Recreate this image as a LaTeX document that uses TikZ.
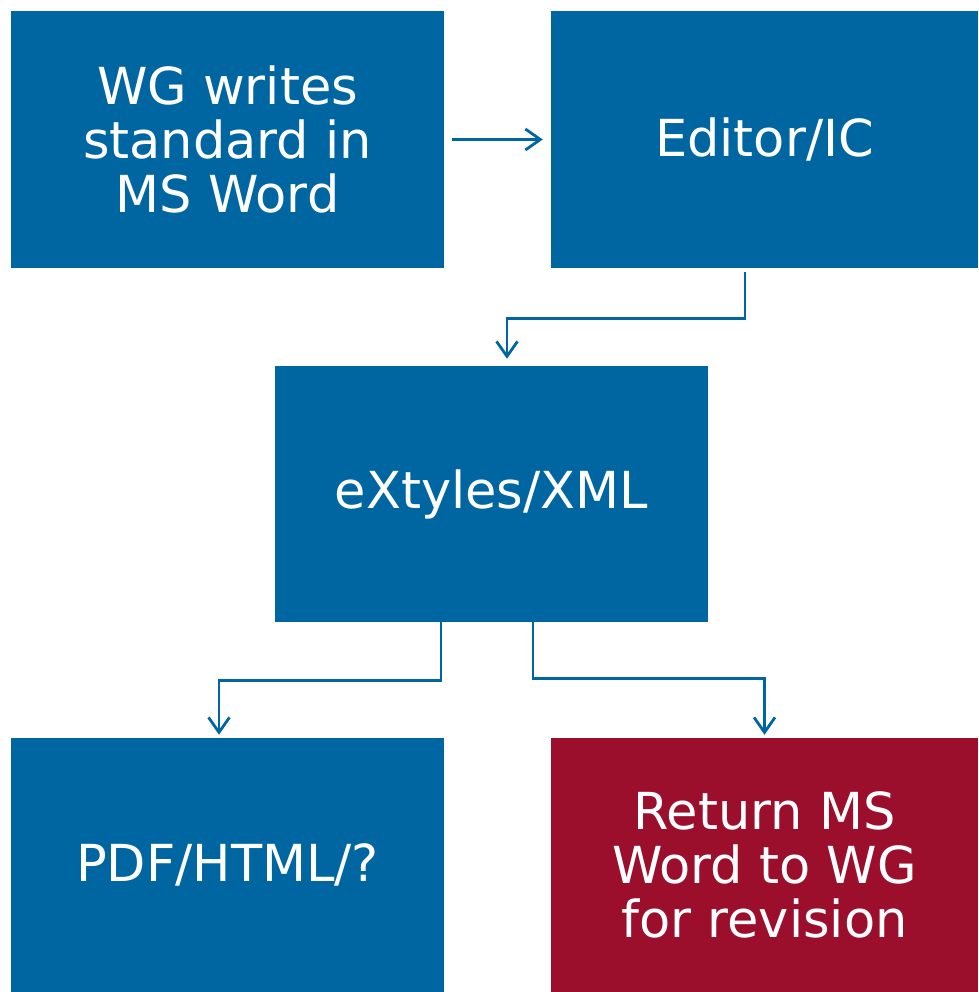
\documentclass[tikz,border=0pt]{standalone}
\usepackage{fontspec}
\setmainfont{DejaVu Sans}
\usetikzlibrary{arrows.meta,calc}
\definecolor{boxblue}{RGB}{0,102,161}
\definecolor{boxred}{RGB}{155,15,45}
\tikzset{
  box/.style={fill=boxblue, draw=none, text=white, align=center, inner sep=0pt,
    font=\fontsize{51pt}{54pt}\selectfont},
  redbox/.style={box, fill=boxred},
  arr/.style={draw=boxblue, line width=2.8pt, -{Straight Barb[length=15pt,width=21pt,line width=2.8pt]}}
}
\begin{document}
\begin{tikzpicture}[x=1pt,y=-1pt]
\useasboundingbox (0,0) rectangle (978,992);
\node[box, minimum width=433pt, minimum height=257pt] (b1) at (227.5,139.5) {WG writes\\standard in\\MS Word};
\node[box, minimum width=427pt, minimum height=257pt] (b2) at (764.5,139.5) {Editor/IC};
\node[box, minimum width=433pt, minimum height=256pt] (b3) at (491.5,494) {eXtyles/XML};
\node[box, minimum width=433pt, minimum height=254pt] (b4) at (227.5,865) {PDF/HTML/?};
\node[redbox, minimum width=427pt, minimum height=254pt] (b5) at (764.5,865) {Return MS\\Word to WG\\for revision};
\draw[arr, shorten <=8pt, shorten >=8pt] (b1.east) -- (b2.west);
\draw[arr, shorten <=4pt, shorten >=7pt] ([xshift=-19.5pt]b2.south) -- ++(0,50) -| ([xshift=15.5pt]b3.north);
\draw[arr, shorten >=3pt] ([xshift=-50.5pt]b3.south) -- ++(0,58) -| ([xshift=-8.5pt]b4.north);
\draw[arr, shorten >=3pt] ([xshift=41.5pt]b3.south) -- ++(0,56) -| (b5.north);
\end{tikzpicture}
\end{document}
